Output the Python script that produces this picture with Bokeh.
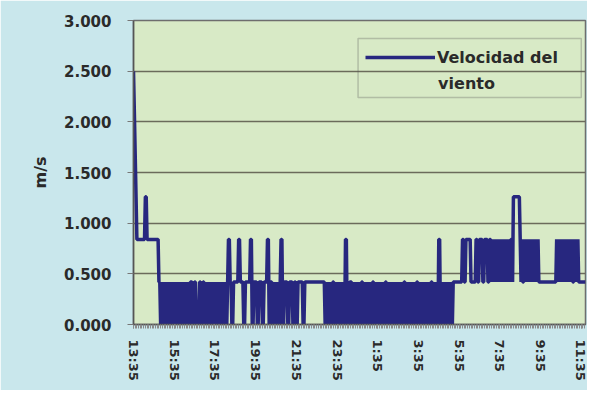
from bokeh.plotting import figure
from bokeh.models import (FixedTicker, NumeralTickFormatter, Legend, LegendItem,
                          BoxAnnotation, Label, ColumnDataSource, Range1d)
from bokeh.embed import file_html
from bokeh.resources import INLINE

# ---- data ----
SAMPLE_MINUTES = 2.5          # one reading every 2.5 minutes, starting 13:35
# speed code per reading (see code_to_speed)
speed_codes = (
    "65432222222222"
    "3322222222222222"
    "11"
    "010101010101010101010101010101010101"
    "1100110000110011"
    "0101010101010101010101010101"
    "22110011111122111100111111"
    "22001111001111001111"
    "22001101010101012200"
    "1111001111001100111111001111"
    "11111111111111111111"
    "01010101011010101010101022010111"
    "0101010101011010101010101101010101010101101010"
    "01010101010101011010101010101011010101"
    "010101010110101010220101010101010101"
    "1111111111"
    "2211222222111111221122221122221122"
    "121212121212121212121212"
    "21333333332121"
    "121212121212121212"
    "11111111111111111111"
    "12121212121212121212"
    "11" "212121" "11111111"
)
code_to_speed = {"0": 0.0, "1": 0.42, "2": 0.84, "3": 1.26, "4": 1.68,
                 "5": 2.1, "6": 2.5}
tick_labels = ["13:35", "15:35", "17:35", "19:35", "21:35", "23:35",
               "1:35", "3:35", "5:35", "7:35", "9:35", "11:35"]
tick_step_minutes = 120
y_ticks = [0.0, 0.5, 1.0, 1.5, 2.0, 2.5, 3.0]
series_name = "Velocidad del"
series_name_2 = "viento"
x_title = "Hora"
y_title = "m/s"

minutes = [i * SAMPLE_MINUTES for i in range(len(speed_codes))]
speeds = [code_to_speed[c] for c in speed_codes]
src = ColumnDataSource(dict(t=minutes, v=speeds))

FONT = "DejaVu Sans"
TXT = "#2a2a2a"

p = figure(width=587, height=390, output_backend="svg", toolbar_location=None,
           x_range=Range1d(0, minutes[-1]), y_range=Range1d(0, 3),
           min_border_left=133, min_border_right=2, min_border_top=20,
           min_border_bottom=66,
           background_fill_color="#d8eac6", border_fill_color="#c9e7ec")
p.outline_line_color = "#6e6e6e"
p.outline_line_width = 1.5

r = p.line("t", "v", source=src, line_color="#27277f", line_width=3.5)

# x axis
major = [k * tick_step_minutes for k in range(len(tick_labels))]
p.xaxis.ticker = FixedTicker(ticks=major, minor_ticks=minutes[::2])
p.xaxis.major_label_overrides = {m: lab for m, lab in zip(major, tick_labels)}
p.xaxis.major_label_orientation = "vertical"
p.xaxis.major_label_text_font = FONT
p.xaxis.major_label_text_font_style = "bold"
p.xaxis.major_label_text_font_size = "13px"
p.xaxis.major_label_text_color = TXT
p.xaxis.major_label_standoff = 11
p.xaxis.major_tick_out = 4
p.xaxis.major_tick_in = 0
p.xaxis.minor_tick_out = 4
p.xaxis.minor_tick_in = 0
p.xaxis.major_tick_line_color = "#8a8a8a"
p.xaxis.minor_tick_line_color = "#8a8a8a"
p.xaxis.axis_line_color = "#555555"
p.xaxis.axis_line_width = 1.5
p.xgrid.visible = False

# y axis
p.yaxis.ticker = FixedTicker(ticks=y_ticks)
p.yaxis.formatter = NumeralTickFormatter(format="0.000")
p.yaxis.major_label_text_font = FONT
p.yaxis.major_label_text_font_style = "bold"
p.yaxis.major_label_text_font_size = "15px"
p.yaxis.major_label_text_color = TXT
p.yaxis.major_label_standoff = 16
p.yaxis.major_tick_out = 6
p.yaxis.major_tick_in = 0
p.yaxis.minor_tick_line_color = None
p.yaxis.major_tick_line_color = "#777777"
p.yaxis.axis_line_color = "#555555"
p.yaxis.axis_line_width = 1.5
p.yaxis.axis_label = y_title
p.yaxis.axis_label_text_font = FONT
p.yaxis.axis_label_text_font_style = "bold"
p.yaxis.axis_label_text_font_size = "16px"
p.yaxis.axis_label_text_color = TXT
p.yaxis.axis_label_standoff = 11
p.ygrid.grid_line_color = "#6b6b5b"
p.ygrid.grid_line_width = 1.5

# x axis title
p.add_layout(Label(x=minutes[-1] / 2, y=-0.632, text=x_title, text_align="center",
                   text_baseline="bottom", text_font=FONT, text_font_style="bold",
                   text_font_size="14px", text_color=TXT))

# legend
legend = Legend(items=[LegendItem(label=series_name, renderers=[r])],
                location=(224, 249), glyph_width=70, glyph_height=20,
                label_standoff=2, padding=8, border_line_alpha=0,
                background_fill_alpha=0, label_text_font=FONT,
                label_text_font_style="bold", label_text_font_size="16px",
                label_text_color=TXT)
p.add_layout(legend)
p.add_layout(Label(x=898, y=2.378, text=series_name_2, text_align="left",
                   text_baseline="middle", text_font=FONT, text_font_style="bold",
                   text_font_size="16px", text_color=TXT))
p.add_layout(BoxAnnotation(left=662, right=1320, top=2.822, bottom=2.240,
                           fill_alpha=0, line_color="#555555", line_width=1.5))

open("out.html", "w").write(file_html(p, INLINE))
